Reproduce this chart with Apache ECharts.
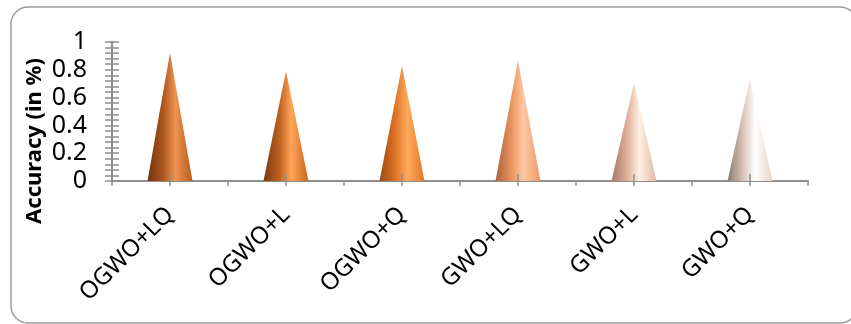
<!DOCTYPE html>
<html>
<head>
<meta charset="utf-8">
<script src="https://cdn.jsdelivr.net/npm/echarts@6/dist/echarts.min.js"></script>
<style>
  html, body { margin: 0; padding: 0; background: #ffffff; }
  #chart { width: 851px; height: 324px; }
</style>
</head>
<body>
<div id="chart"></div>
<script>
// Accuracy of each optimiser variant
const categories = ['OGWO+LQ', 'OGWO+L', 'OGWO+Q', 'GWO+LQ', 'GWO+L', 'GWO+Q'];
const accuracy = [0.92, 0.79, 0.83, 0.865, 0.705, 0.735];
const yTicks = { min: 0, max: 1, interval: 0.2 };

// Cone shading: [shadow edge, body, highlight, far edge] per cone
const conePalette = [
  ['#70340f', '#ad561d', '#ee9552', '#b85a1d'],
  ['#7a3a12', '#bd6020', '#ffa556', '#c8651f'],
  ['#9a4a14', '#dd7325', '#ffaa5c', '#e07828'],
  ['#b06040', '#e8925c', '#ffc8a0', '#e89868'],
  ['#a07868', '#e0b09a', '#fff0e2', '#e2b8a4'],
  ['#8a7a74', '#dcc4b8', '#ffffff', '#e6d2c8']
];

const chart = echarts.init(document.getElementById('chart'));
const axisGray = '#8e8e8e';
const font = '"Noto Sans", "Open Sans", sans-serif';

const coneData = accuracy.map((v, i) => ({
  value: v,
  itemStyle: {
    color: new echarts.graphic.LinearGradient(0, 0, 1, 0, [
      { offset: 0.0, color: conePalette[i][0] },
      { offset: 0.35, color: conePalette[i][1] },
      { offset: 0.62, color: conePalette[i][2] },
      { offset: 1.0, color: conePalette[i][3] }
    ])
  }
}));

chart.setOption({
  animation: false,
  grid: { left: 112, right: 43, top: 42, bottom: 143 },
  graphic: [
    {
      type: 'rect',
      shape: { x: 11, y: 7, width: 846, height: 316, r: 17 },
      style: { fill: 'none', stroke: '#9c9c9c', lineWidth: 1.5 },
      silent: true
    },
    {
      type: 'text',
      x: 35, y: 141,
      rotation: Math.PI / 2,
      style: {
        text: 'Accuracy (in %)',
        fontSize: 22,
        fontWeight: 'bold',
        fontFamily: font,
        fill: '#000',
        align: 'center',
        verticalAlign: 'middle'
      }
    }
  ],
  xAxis: [
    {
      type: 'category',
      data: categories,
      axisLine: { lineStyle: { color: axisGray, width: 2 } },
      axisTick: { show: true, interval: 0, length: 5, lineStyle: { color: axisGray, width: 1.5 } },
      axisLabel: { interval: 0, rotate: 45, margin: 30, color: '#000', fontSize: 24, fontFamily: font }
    },
    {
      type: 'category',
      data: categories,
      position: 'bottom',
      z: 5,
      axisLine: { show: false },
      axisTick: { show: true, alignWithLabel: true, interval: 0, inside: true, length: 7, lineStyle: { color: axisGray, width: 1.5 } },
      axisLabel: { show: false }
    },
    {
      type: 'category',
      data: categories,
      position: 'bottom',
      z: 5,
      axisLine: { show: false },
      axisTick: { show: true, alignWithLabel: true, interval: 0, length: 5, lineStyle: { color: axisGray, width: 1.5 } },
      axisLabel: { show: false }
    }
  ],
  yAxis: [
    {
      type: 'value',
      min: yTicks.min, max: yTicks.max, interval: yTicks.interval,
      splitLine: { show: false },
      axisLine: { show: true, lineStyle: { color: axisGray, width: 2 } },
      axisTick: { show: true, length: 7, lineStyle: { color: axisGray, width: 1.5 } },
      minorTick: { show: true, splitNumber: 5, length: 7, lineStyle: { color: axisGray, width: 1.5 } },
      axisLabel: { margin: 25, color: '#000', fontSize: 25, fontFamily: font }
    },
    {
      type: 'value',
      position: 'left',
      offset: 0,
      min: yTicks.min, max: yTicks.max, interval: yTicks.interval,
      splitLine: { show: false },
      axisLine: { show: false },
      axisTick: { show: true, inside: true, length: 7, lineStyle: { color: axisGray, width: 1.5 } },
      minorTick: { show: true, splitNumber: 5, length: 7, lineStyle: { color: axisGray, width: 1.5 } },
      axisLabel: { show: false }
    }
  ],
  series: [
    {
      type: 'pictorialBar',
      xAxisIndex: 0,
      yAxisIndex: 0,
      symbol: 'triangle',
      symbolSize: [45, '100%'],
      symbolPosition: 'start',
      data: coneData
    }
  ]
});
</script>
</body>
</html>
